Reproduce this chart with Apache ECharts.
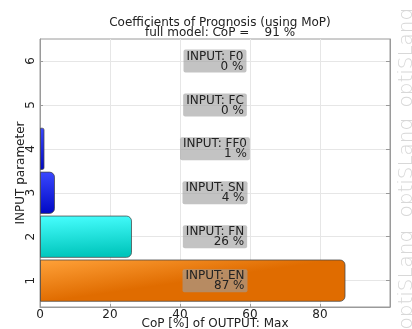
<!DOCTYPE html>
<html>
<head>
<meta charset="utf-8">
<script src="https://cdn.jsdelivr.net/npm/echarts@6/dist/echarts.min.js"></script>
<style>
  html, body { margin: 0; padding: 0; background: #ffffff; }
  #chart { width: 412px; height: 329px; }
</style>
</head>
<body>
<div id="chart"></div>
<script>
// Coefficients of prognosis per input parameter
const inputNames = ['EN', 'FN', 'SN', 'FF0', 'FC', 'F0'];
const copValues = [87, 26, 4, 1, 0, 0];
const paramIndex = [1, 2, 3, 4, 5, 6];
const xTicks = [0, 20, 40, 60, 80];
const yTicks = [1, 2, 3, 4, 5, 6];
const totalCoP = 91;
const outputName = 'Max';

const FONT = 'DejaVu Sans';

function barFill(idx) {
  const stops = {
    1: ['#ffa23a', '#e06c00'],
    2: ['#48ffff', '#00c6bc'],
    3: ['#3a48ff', '#0008c4'],
    4: ['#3a48ff', '#0008c4']
  }[idx] || ['#3a48ff', '#0008c4'];
  return new echarts.graphic.LinearGradient(0, 0, 0.02, 1, [
    { offset: 0, color: stops[0] },
    { offset: 1, color: stops[1] }
  ]);
}

const chart = echarts.init(document.getElementById('chart'), null, { renderer: 'canvas' });

const seriesData = paramIndex.map((p, i) => [copValues[i], p, inputNames[i]]);

const option = {
  animation: false,
  backgroundColor: '#ffffff',
  title: {
    text: 'Coefficients of Prognosis (using MoP)\nfull model: CoP =    ' + totalCoP + ' %',
    left: 215,
    textAlign: 'center',
    top: 13,
    textStyle: { fontFamily: FONT, fontSize: 12, fontWeight: 'normal', color: '#222', lineHeight: 10 }
  },
  grid: {
    left: 40, right: 22, top: 39, bottom: 22,
    containLabel: false,
    outerBoundsMode: 'none',
    show: true, borderColor: '#9a9a9a', borderWidth: 1, backgroundColor: 'transparent'
  },
  xAxis: [{
    type: 'value', min: 0, max: 100, interval: 20,
    name: 'CoP [%] of OUTPUT: ' + outputName,
    nameLocation: 'middle', nameGap: 11, nameMoveOverlap: false,
    nameTextStyle: { fontFamily: FONT, fontSize: 12, color: '#222', lineHeight: 12 },
    axisLine: { show: true, lineStyle: { color: '#9a9a9a' } },
    axisTick: { show: true, inside: true, length: 3, lineStyle: { color: '#9a9a9a' } },
    axisLabel: {
      fontFamily: FONT, fontSize: 12, color: '#222', margin: 2,
      formatter: v => (xTicks.indexOf(v) >= 0 ? String(v) : '')
    },
    splitLine: { show: true, lineStyle: { color: '#e6e6e6' } }
  }],
  yAxis: [{
    type: 'value', min: 0.4, max: 6.5,
    name: 'INPUT parameter',
    nameLocation: 'middle', nameGap: 13, nameRotate: 90, nameMoveOverlap: false,
    nameTextStyle: { fontFamily: FONT, fontSize: 12, color: '#222', lineHeight: 12 },
    axisLine: { show: true, lineStyle: { color: '#9a9a9a' } },
    axisTick: { show: true, inside: true, length: 3, customValues: yTicks, lineStyle: { color: '#9a9a9a' } },
    axisLabel: { fontFamily: FONT, fontSize: 12, color: '#222', rotate: 90, margin: 3, customValues: yTicks },
    splitLine: { show: true, lineStyle: { color: '#e6e6e6' } }
  }, {
    type: 'value', min: 0.4, max: 6.5, position: 'right',
    axisLine: { show: true, lineStyle: { color: '#9a9a9a' } },
    axisTick: { show: true, inside: true, length: 4, customValues: yTicks, lineStyle: { color: '#9a9a9a' } },
    axisLabel: { show: false },
    splitLine: { show: false }
  }],
  graphic: [280, 168, 58].map(cy => ({
    type: 'text',
    x: 417, y: cy,
    rotation: Math.PI / 2,
    silent: true,
    style: {
      text: 'optiSLang',
      fontFamily: FONT, fontSize: 20, fontWeight: 200,
      fill: '#d8d8d8',
      align: 'center', verticalAlign: 'bottom'
    }
  })),
  series: [{
    type: 'custom',
    coordinateSystem: 'cartesian2d',
    xAxisIndex: 0, yAxisIndex: 0,
    data: seriesData,
    encode: { x: 0, y: 1 },
    renderItem: function (params, api) {
      const v = api.value(0);
      const p = api.value(1);
      const name = inputNames[params.dataIndex];
      const a = api.coord([0, p + 0.47]);
      const b = api.coord([v, p - 0.47]);
      const w = b[0] - a[0];
      const h = b[1] - a[1];
      const children = [];
      if (w > 0.5) {
        const rr = Math.min(5, w / 2);
        children.push({
          type: 'rect',
          shape: { x: a[0] + 0.5, y: a[1], width: w, height: h, r: [0, rr, rr, 0] },
          style: { fill: barFill(p), stroke: 'rgba(70,70,70,0.75)', lineWidth: 1 }
        });
      }
      const c = api.coord([50, p]);
      children.push({
        type: 'text',
        x: c[0], y: c[1],
        z2: 10,
        style: {
          text: '{a|INPUT: ' + name + '}\n{b|' + Math.round(v) + ' %}',
          align: 'center', verticalAlign: 'middle',
          fontFamily: FONT, fontSize: 12, fill: '#222',
          backgroundColor: 'rgba(158,158,158,0.62)',
          borderRadius: 2,
          padding: [2, 3, 1, 3],
          rich: {
            a: { fontFamily: FONT, fontSize: 12, lineHeight: 10, fill: '#222' },
            b: { fontFamily: FONT, fontSize: 12, lineHeight: 10, fill: '#222', width: 48, align: 'right' }
          }
        }
      });
      return { type: 'group', children: children };
    }
  }]
};

chart.setOption(option);
</script>
</body>
</html>
